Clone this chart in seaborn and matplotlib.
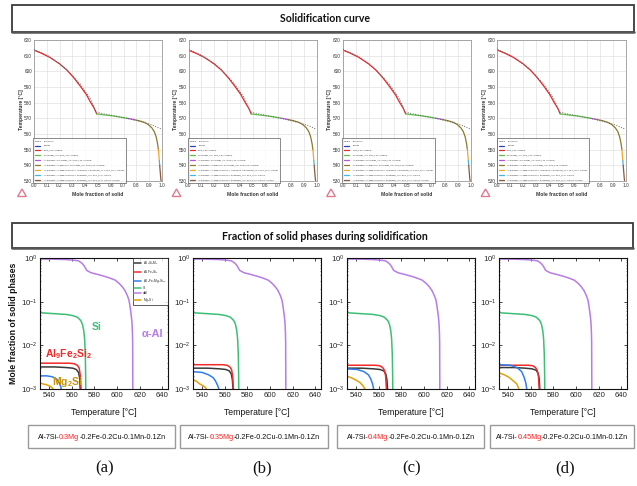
import numpy as np
import pandas as pd
import matplotlib
matplotlib.use('Agg')
import matplotlib.pyplot as plt
import seaborn as sns
from matplotlib.patches import Rectangle, RegularPolygon
from matplotlib.lines import Line2D
from matplotlib.ticker import LogLocator, NullFormatter

sns.set_style('white')
SANS = ['Liberation Sans', 'DejaVu Sans']
LATO = ['Lato', 'DejaVu Sans']
plt.rcParams['font.family'] = SANS
plt.rcParams['mathtext.fontset'] = 'custom'
plt.rcParams['mathtext.rm'] = 'Liberation Sans'
plt.rcParams['mathtext.it'] = 'Liberation Sans:italic'
plt.rcParams['mathtext.bf'] = 'Liberation Sans:bold'

W, H = 637, 486

# ---------------- data: solidification curve (top row) ----------------
frac_fcc = [0.0, 0.06, 0.126, 0.2, 0.257, 0.31, 0.362, 0.41, 0.44, 0.47, 0.49]
T_fcc = [613.5, 611.5, 608.8, 604.8, 600.8, 596.0, 590.5, 585.0, 580.5, 576.5, 572.8]
frac_dia = [0.49, 0.55, 0.62, 0.69, 0.73]
T_dia = [572.8, 572.2, 571.5, 570.6, 570.0]
frac_al15 = [0.73, 0.76, 0.78]
T_al15 = [570.0, 569.6, 569.2]
frac_al9 = [0.78, 0.82, 0.86, 0.89, 0.92, 0.94, 0.955, 0.965, 0.972]
T_al9 = [569.2, 568.5, 567.5, 566.2, 564.0, 561.5, 558.0, 554.0, 550.0]
frac_al18 = [0.972, 0.976, 0.979]
T_al18 = [550.0, 546.0, 543.0]
frac_al18b = [0.979, 0.982]
T_al18b = [543.0, 540.0]
frac_mg2si = [0.982, 0.986, 0.99, 0.993]
T_mg2si = [540.0, 536.0, 532.0, 530.0]
frac_eq = [0.0, 0.12, 0.25, 0.36, 0.44, 0.485, 0.55, 0.65, 0.75, 0.85, 0.93, 1.0]
T_eq = [614.0, 609.5, 601.5, 592.0, 582.5, 574.0, 572.8, 571.2, 569.5, 567.5, 565.5, 563.0]

top_legend_labels = [
    "Equilibrium", "LIQUID", "FCC_L12 + LIQUID", "DIAMOND_A4 + FCC_L12 + LIQUID",
    "AL15SI2M4 + DIAMOND_A4 + FCC_L12 + LIQUID",
    "AL15SI2M4 + AL9FE2SI2 + DIAMOND_A4 + FCC_L12 + LIQUID",
    "AL15SI2M4 + AL18FE2MG7SI10 + AL9FE2SI2 + DIAMOND_A4 + FCC_L12 + LIQUID",
    "AL15SI2M4 + AL18FE2MG7SI10 + DIAMOND_A4 + FCC_L12 + LIQUID",
    "AL15SI2M4 + AL18FE2MG7SI10 + DIAMOND_A4 + FCC_L12 + LIQUID + MG2SI",
]
top_colors = ['#555555', '#2b3fbf', '#e8282b', '#5cc043', '#b455d6', '#8a7a2a',
              '#f5a623', '#3db7e4', '#8b5a3c']

# ---------------- data: fraction of solid phases (bottom row) ----------------
T_alpha = [531, 545, 555, 562, 566, 569, 571, 572.5, 573.2, 577, 583, 589, 594, 598.5,
           602, 604.6, 607, 609, 610.5, 611.4, 612.5, 613.2, 613.6, 613.8, 614.0]
f_alpha = [0.95, 0.94, 0.92, 0.89, 0.86, 0.76, 0.66, 0.56, 0.52, 0.46, 0.42, 0.38, 0.345,
           0.31, 0.26, 0.22, 0.18, 0.14, 0.11, 0.08, 0.05, 0.033, 0.02, 0.0115, 0.0004]
T_si = [531, 545, 555, 561, 565, 568, 569.5, 570.6, 571.4, 572.0, 572.3, 572.5]
f_si = [0.056, 0.053, 0.051, 0.048, 0.044, 0.037, 0.030, 0.022, 0.014, 0.006, 0.002, 0.0004]

T_fe_a = [531, 545, 558, 562, 565, 566.6, 567.6, 568.2, 568.5]
f_fe_a = [0.0039, 0.0039, 0.0039, 0.0038, 0.0035, 0.003, 0.002, 0.001, 0.0003]
T_fe_b = [531, 545, 558, 562, 564.5, 566, 567, 567.7, 568.0]
f_fe_b = [0.0036, 0.0036, 0.0036, 0.0035, 0.0032, 0.0028, 0.002, 0.001, 0.0003]
T_fe_c = [531, 545, 557, 561, 563.5, 565, 566.1, 566.8, 567.1]
f_fe_c = [0.0035, 0.0035, 0.0035, 0.0034, 0.0031, 0.0027, 0.002, 0.001, 0.0003]
T_fe_d = [531, 545, 558, 562, 564.2, 565.7, 566.8, 567.5, 567.8]
f_fe_d = [0.0035, 0.0035, 0.0035, 0.0034, 0.0031, 0.0027, 0.002, 0.001, 0.0003]

T_al15_a = [531, 545, 555, 561, 564, 566, 567, 567.5, 567.8]
f_al15_a = [0.0032, 0.0032, 0.0031, 0.003, 0.0028, 0.0024, 0.0018, 0.001, 0.0003]
T_al15_b = [531, 545, 555, 561, 564, 565.8, 566.8, 567.3, 567.6]
f_al15_b = [0.0030, 0.0030, 0.0029, 0.0028, 0.0026, 0.0022, 0.0016, 0.001, 0.0003]
T_al15_c = [531, 545, 555, 561, 564.5, 566.3, 567.3, 567.8, 568.1]
f_al15_c = [0.0030, 0.0030, 0.0029, 0.0028, 0.0026, 0.0022, 0.0016, 0.001, 0.0003]
T_al15_d = [531, 545, 555, 561, 564.7, 566.5, 567.5, 568.0, 568.3]
f_al15_d = [0.0031, 0.0031, 0.003, 0.0029, 0.0027, 0.0023, 0.0017, 0.001, 0.0003]

T_al18_a = [531, 538, 543, 546.5, 549, 550.5, 551.2, 551.5]
f_al18_a = [0.0020, 0.0020, 0.0019, 0.0017, 0.0014, 0.0011, 0.0007, 0.0003]
T_al18_b = [531, 540, 546, 550, 552, 553.8, 554.8, 555.2]
f_al18_b = [0.0025, 0.0024, 0.0021, 0.0018, 0.0015, 0.0012, 0.001, 0.0003]
T_al18_c = [531, 541, 547, 551, 553, 554.6, 555.5, 555.9]
f_al18_c = [0.0029, 0.0028, 0.0025, 0.0021, 0.0017, 0.0013, 0.001, 0.0003]
T_al18_d = [531, 542, 548, 552, 554, 555.6, 556.5, 556.9]
f_al18_d = [0.0036, 0.0035, 0.0031, 0.0025, 0.0019, 0.0014, 0.001, 0.0003]

T_mg_a = [531, 535, 538, 541, 543, 544.5, 545.3]
f_mg_a = [0.0014, 0.0013, 0.00125, 0.00115, 0.00105, 0.0009, 0.0005]
T_mg_b = [531, 535, 538, 541, 543, 544.8, 545.6]
f_mg_b = [0.0017, 0.0015, 0.0013, 0.00118, 0.00108, 0.0009, 0.0005]
T_mg_c = [531, 536, 540, 543.5, 546, 547.8, 548.6]
f_mg_c = [0.0020, 0.0018, 0.0016, 0.0014, 0.0012, 0.001, 0.0005]
T_mg_d = [531, 537, 541.5, 545, 547.8, 549.6, 550.5]
f_mg_d = [0.0024, 0.0021, 0.0018, 0.0015, 0.0013, 0.001, 0.0005]

phase_labels = [r'Al$_{15}$Si$_2$M$_4$', r'Al$_9$Fe$_2$Si$_2$', r'Al$_{18}$Fe$_2$Mg$_7$Si$_{10}$',
                'Si', 'αAl', r'Mg$_2$Si']
phase_colors = ['#3a3a3a', '#f22a2a', '#2f7df0', '#3cbf74', '#b77ce6', '#e0a10c']

mg_levels = ['0.3Mg', '0.35Mg', '0.4Mg', '0.45Mg']
panel_letters = ['(a)', '(b)', '(c)', '(d)']

small_phases = [
    [(T_al15_a, f_al15_a), (T_fe_a, f_fe_a), (T_al18_a, f_al18_a), (T_mg_a, f_mg_a)],
    [(T_al15_b, f_al15_b), (T_fe_b, f_fe_b), (T_al18_b, f_al18_b), (T_mg_b, f_mg_b)],
    [(T_al15_c, f_al15_c), (T_fe_c, f_fe_c), (T_al18_c, f_al18_c), (T_mg_c, f_mg_c)],
    [(T_al15_d, f_al15_d), (T_fe_d, f_fe_d), (T_al18_d, f_al18_d), (T_mg_d, f_mg_d)],
]

# ---------------- figure ----------------
fig = plt.figure(figsize=(W / 100, H / 100), dpi=100)
ov = fig.add_axes([0, 0, 1, 1])
ov.set_xlim(0, W)
ov.set_ylim(H, 0)
ov.axis('off')

# title boxes
for (x0, y0, x1, y1, txt) in [(12, 5, 634, 32, 'Solidification curve'),
                              (12, 223, 633, 248, 'Fraction of solid phases during solidification')]:
    ov.add_patch(Rectangle((x0, y0), x1 - x0, y1 - y0, fill=False, edgecolor='#3a3a3a', lw=1.3))
    ov.plot([x0, x1], [y1, y1], color='#555555', lw=1.8)
    ov.text((x0 + x1) / 2 + 2, (y0 + y1) / 2 + 0.5, txt, ha='center', va='center',
            fontsize=7.6, fontweight='bold', family=LATO, color='#111111')

top_lefts = [34, 188.5, 343, 497.5]
seg_data = [(frac_fcc, T_fcc, top_colors[2]), (frac_dia, T_dia, top_colors[3]),
            (frac_al15, T_al15, top_colors[4]), (frac_al9, T_al9, top_colors[5]),
            (frac_al18, T_al18, top_colors[6]), (frac_al18b, T_al18b, top_colors[7]),
            (frac_mg2si, T_mg2si, top_colors[8])]

for i, left in enumerate(top_lefts):
    ax = fig.add_axes([left / W, 1 - 181 / H, 128 / W, 141 / H])
    for fr, tt, col in seg_data:
        sns.lineplot(x=fr, y=tt, ax=ax, color=col, lw=0.9, estimator=None, sort=False)
    sns.lineplot(x=frac_eq, y=T_eq, ax=ax, color='#666666', lw=0.7, estimator=None,
                 sort=False, linestyle=(0, (1, 1.6)), zorder=5)
    ax.set_xlim(0, 1)
    ax.set_ylim(530, 620)
    ax.set_xticks(np.arange(0, 1.01, 0.1))
    ax.set_xticklabels(['0.0', '0.1', '0.2', '0.3', '0.4', '0.5', '0.6', '0.7', '0.8', '0.9', '1.0'])
    ax.set_yticks(np.arange(530, 621, 10))
    ax.tick_params(labelsize=3.4, length=0, pad=1.5, colors='#333333')
    ax.grid(True, color='#e2e2e2', lw=0.5)
    for sp in ax.spines.values():
        sp.set_color('#999999')
        sp.set_linewidth(0.6)
    ax.set_xlabel('')
    ax.set_ylabel('')
    handles = [Line2D([], [], color=top_colors[0], lw=0.7, linestyle=(0, (1, 1.2)))] + \
              [Line2D([], [], color=c, lw=0.9) for c in top_colors[1:]]
    leg = ax.legend(handles, top_legend_labels, loc='lower left', bbox_to_anchor=(-0.005, -0.015),
                    fontsize=1.55, frameon=True, fancybox=False, edgecolor='#555555',
                    borderpad=0.9, labelspacing=1.35, handlelength=2.4, borderaxespad=0,
                    handletextpad=1.6)
    leg.get_frame().set_linewidth(0.6)
    cx = left + 64
    ov.text(cx, 194, 'Mole fraction of solid', ha='center', va='center', fontsize=3.6,
            fontweight='bold', color='#333333')
    ov.text(left - 13, 110, 'Temperature [°C]', ha='center', va='center', fontsize=3.6,
            fontweight='bold', rotation=90, color='#333333')
    ov.add_patch(RegularPolygon((left - 12, 194), numVertices=3, radius=5, orientation=np.pi,
                                facecolor='none', edgecolor='#e07b8f', lw=1.0))

bot_lefts = [40, 193, 347, 499]
for i, left in enumerate(bot_lefts):
    ax = fig.add_axes([left / W, 1 - 389 / H, 128 / W, 131 / H])
    curves = small_phases[i][:3] + [(T_si, f_si), (T_alpha, f_alpha)] + small_phases[i][3:]
    for (tt, ff), col, lab in zip(curves, phase_colors, phase_labels):
        sns.lineplot(x=tt, y=ff, ax=ax, color=col, lw=1.1, estimator=None, sort=False,
                     label=lab if i == 0 else None)
    ax.set_yscale('log')
    ax.set_ylim(1e-3, 1)
    ax.set_xlim(532, 645)
    ax.set_xticks([540, 560, 580, 600, 620, 640])
    ax.yaxis.set_major_locator(LogLocator(base=10, numticks=5))
    ax.yaxis.set_minor_locator(LogLocator(base=10, subs=np.arange(2, 10), numticks=20))
    ax.yaxis.set_minor_formatter(NullFormatter())
    ax.tick_params(axis='both', which='major', direction='in', length=2.2, width=0.6,
                   top=True, right=True, labelsize=5.6, pad=2, bottom=True, left=True)
    ax.tick_params(axis='both', which='minor', direction='in', length=1.0, width=0.4,
                   top=True, right=True, bottom=True, left=True)
    for sp in ax.spines.values():
        sp.set_color('#111111')
        sp.set_linewidth(0.8)
    ax.set_xlabel('')
    ax.set_ylabel('')
    if i == 0:
        leg = ax.legend(loc='upper right', fontsize=2.3, frameon=True, fancybox=False,
                        edgecolor='#111111', borderpad=0.4, labelspacing=0.35,
                        handlelength=2.2, borderaxespad=0, handletextpad=0.5)
        leg.get_frame().set_linewidth(0.6)
        ax.text(582, 0.026, 'Si', color=phase_colors[3], fontsize=7.5, fontweight='bold',
                ha='center', va='center')
        ax.text(631, 0.018, 'α-Al', color=phase_colors[4], fontsize=8, fontweight='bold',
                ha='center', va='center')
        ax.text(557, 0.0063, r'Al$_\mathbf{9}$Fe$_\mathbf{2}$Si$_\mathbf{2}$', color='#f22a2a',
                fontsize=7.5, fontweight='bold', ha='center', va='center')
        ax.text(556, 0.00145, r'Mg$_\mathbf{2}$Si', color='#c8920a', fontsize=7.5,
                fontweight='bold', ha='center', va='center')
    cx = left + 64
    ov.text(cx, 412, 'Temperature [°C]', ha='center', va='center', fontsize=6.2, color='#111111')

ov.text(14, 323, 'Mole fraction of solid phases', ha='center', va='center', fontsize=6.3,
        fontweight='bold', rotation=90, color='#111111')

# caption boxes
cap_boxes = [(28, 175), (180, 328), (337, 484), (490, 634)]
letter_x = [105, 262, 412, 565]
renderer = fig.canvas.get_renderer()
for (x0, x1), mg, lx, letter in zip(cap_boxes, mg_levels, letter_x, panel_letters):
    ov.add_patch(Rectangle((x0, 425), x1 - x0, 23, fill=False, edgecolor='#9a9a9a', lw=1.0))
    t1 = ov.text(x0 + 8, 437, 'Al-7Si-', color='#111111', fontsize=5.2, ha='left', va='center')
    t2 = ov.annotate(mg, xy=(1, 0.5), xycoords=t1, color='#ff2020', fontsize=5.2, ha='left',
                     va='center')
    t3 = ov.annotate('-0.2Fe-0.2Cu-0.1Mn-0.1Zn', xy=(1, 0.5), xycoords=t2, color='#111111',
                     fontsize=5.2, ha='left', va='center')
    b1 = t1.get_window_extent(renderer)
    b3 = t3.get_window_extent(renderer)
    width = b3.x1 - b1.x0
    t1.set_x((x0 + x1) / 2 - width / 2)
    ov.text(lx, 468, letter, ha='center', va='center', fontsize=12, family='Liberation Serif',
            color='#111111')

fig.savefig('out.png', dpi=100)
